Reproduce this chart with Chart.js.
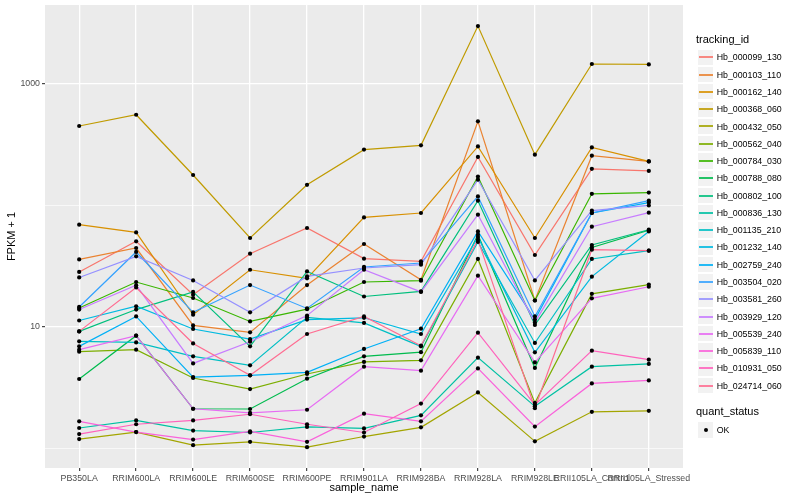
<!DOCTYPE html>
<html><head><meta charset="utf-8">
<script src="https://cdn.jsdelivr.net/npm/chart.js@4.4.1/dist/chart.umd.min.js"></script>
<style>
html,body{margin:0;padding:0;background:#fff;}
#wrap{position:relative;width:800px;height:500px;font-family:"Liberation Sans",Arial,Helvetica,sans-serif;overflow:hidden;}
canvas{position:absolute;left:0;top:0;}
.lg{position:absolute;white-space:nowrap;color:#000;}
.key{position:absolute;background:#F2F2F2;box-sizing:border-box;border:1px solid #fff;}
.kline{position:absolute;height:2px;opacity:0.85;}
</style></head><body>
<div id="wrap"><canvas id="c" width="800" height="500"></canvas><div id="legend"></div></div>
<script>
// ---- data ----
const categories = ["PB350LA","RRIM600LA","RRIM600LE","RRIM600SE","RRIM600PE","RRIM901LA","RRIM928BA","RRIM928LA","RRIM928LE","RRII105LA_Control","RRII105LA_Stressed"];
const trackingIds = ["Hb_000099_130","Hb_000103_110","Hb_000162_140","Hb_000368_060","Hb_000432_050","Hb_000562_040","Hb_000784_030","Hb_000788_080","Hb_000802_100","Hb_000836_130","Hb_001135_210","Hb_001232_140","Hb_002759_240","Hb_003504_020","Hb_003581_260","Hb_003929_120","Hb_005539_240","Hb_005839_110","Hb_010931_050","Hb_024714_060"];
const seriesColors = ["#F8766D","#EA8331","#D89000","#C09B00","#A3A500","#7CAE00","#39B600","#00BB4E","#00BF7D","#00C1A3","#00BFC4","#00BAE0","#00B0F6","#35A2FF","#9590FF","#C77CFF","#E76BF3","#FA62DB","#FF62BC","#FF6C91"];

const Hb_000099_130 = [28.3, 50.5, 18.4, 40.0, 65.0, 36.4, 34.6, 249, 39.0, 199, 191];
const Hb_000103_110 = [35.9, 44.5, 10.3, 9.03, 22.1, 48.0, 24.4, 488, 16.5, 255, 229];
const Hb_000162_140 = [69.2, 59.8, 12.6, 29.5, 25.1, 79.4, 86.3, 304, 53.8, 298, 229];
const Hb_000368_060 = [447, 553, 177, 53.8, 147, 286, 310, 2958, 260, 1443, 1432];
const Hb_000432_050 = [1.20, 1.37, 1.07, 1.14, 1.03, 1.26, 1.50, 2.90, 1.15, 2.01, 2.05];
const Hb_000562_040 = [6.27, 6.51, 3.81, 3.09, 4.11, 5.16, 5.32, 36.2, 2.38, 18.7, 22.3];
const Hb_000784_030 = [14.3, 23.4, 17.3, 11.1, 14.0, 23.4, 24.0, 172, 16.5, 124, 127];
const Hb_000788_080 = [3.74, 8.48, 2.13, 2.12, 3.76, 5.74, 6.21, 57.3, 4.61, 45.0, 62.3];
const Hb_000802_100 = [9.20, 13.9, 19.4, 6.93, 28.6, 17.8, 19.6, 109, 10.4, 47.1, 62.9];
const Hb_000836_130 = [1.48, 1.71, 1.41, 1.36, 1.51, 1.47, 1.88, 5.60, 2.23, 4.72, 4.97];
const Hb_001135_210 = [7.62, 7.47, 5.74, 4.84, 12.0, 10.8, 6.93, 49.9, 7.39, 36.2, 42.3];
const Hb_001232_140 = [11.3, 14.8, 9.63, 7.94, 11.5, 11.9, 8.76, 54.8, 6.19, 25.9, 60.9];
const Hb_002759_240 = [6.93, 12.2, 3.88, 4.01, 4.24, 6.60, 9.68, 60.9, 11.5, 86.3, 105];
const Hb_003504_020 = [14.6, 41.3, 13.2, 22.1, 14.2, 31.1, 33.5, 118, 12.2, 86.3, 109];
const Hb_003581_260 = [25.5, 38.0, 24.1, 13.2, 26.0, 30.5, 32.5, 162, 24.1, 90.2, 99.6];
const Hb_003929_120 = [13.9, 22.0, 5.02, 7.57, 12.4, 29.5, 19.4, 83.6, 10.9, 66.6, 86.8];
const Hb_005539_240 = [6.51, 8.48, 2.13, 1.97, 2.09, 4.72, 4.38, 26.4, 5.12, 17.2, 21.4];
const Hb_005839_110 = [1.68, 1.37, 1.19, 1.39, 1.14, 1.94, 1.68, 4.57, 1.52, 3.44, 3.64];
const Hb_010931_050 = [1.32, 1.59, 1.71, 1.92, 1.59, 1.36, 2.35, 8.98, 2.29, 6.39, 5.39];
const Hb_024714_060 = [9.20, 21.1, 7.33, 4.01, 8.76, 12.2, 7.02, 52.1, 2.15, 43.1, 42.3];

const seriesValues = [Hb_000099_130,Hb_000103_110,Hb_000162_140,Hb_000368_060,Hb_000432_050,Hb_000562_040,Hb_000784_030,Hb_000788_080,Hb_000802_100,Hb_000836_130,Hb_001135_210,Hb_001232_140,Hb_002759_240,Hb_003504_020,Hb_003581_260,Hb_003929_120,Hb_005539_240,Hb_005839_110,Hb_010931_050,Hb_024714_060];

const yTickValues = [10, 1000];
const yTickLabels = ["10", "1000"];
const yMinorValues = [1, 100];
const yRange = [0.695, 4405];
const statusLabels = ["OK"];

// ---- chart ----
const FONT = "'Liberation Sans', Arial, Helvetica, sans-serif";
const datasets = seriesValues.map((vals, s) => ({
  label: trackingIds[s],
  data: vals.map((v, i) => ({x: i + 1, y: v})),
  borderColor: seriesColors[s],
  borderWidth: 1.2,
  pointRadius: 0,
  fill: false,
  tension: 0,
  order: seriesValues.length - s
}));
datasets.push({
  label: "points",
  data: seriesValues.flatMap(vals => vals.map((v, i) => ({x: i + 1, y: v}))),
  showLine: false,
  pointRadius: 2.1,
  pointBackgroundColor: "#000",
  pointBorderWidth: 0,
  order: -1
});

const panelBg = {
  id: "panelBg",
  beforeDraw(chart) {
    const a = chart.chartArea, c = chart.ctx;
    c.save(); c.fillStyle = "#EBEBEB";
    c.fillRect(a.left, a.top, a.right - a.left, a.bottom - a.top);
    c.restore();
  }
};

const allY = yMinorValues.concat(yTickValues).sort((a, b) => a - b);

new Chart(document.getElementById("c"), {
  type: "line",
  data: {datasets},
  plugins: [panelBg],
  options: {
    responsive: false,
    animation: false,
    layout: {padding: {left: 0, right: 117, top: 5, bottom: 0}},
    plugins: {legend: {display: false}, tooltip: {enabled: false}},
    scales: {
      x: {
        type: "linear", min: 0.4, max: 11.6,
        afterBuildTicks: s => { s.ticks = categories.map((c, i) => ({value: i + 1})); },
        afterFit: s => { s.height = 32; s.paddingLeft = 0; s.paddingRight = 0; },
        ticks: {autoSkip: false, maxRotation: 0, minRotation: 0, padding: 2, color: "#4D4D4D",
          font: {family: FONT, size: 8.8},
          callback: v => categories[Math.round(v) - 1]},
        grid: {color: "#FFFFFF", lineWidth: 1.3, tickLength: 3, tickColor: "#333333", tickWidth: 1.1},
        border: {display: false},
        title: {display: true, text: "sample_name", color: "#000", font: {family: FONT, size: 11}, padding: {top: 0, bottom: 5}}
      },
      y: {
        type: "logarithmic", min: yRange[0], max: yRange[1],
        afterBuildTicks: s => { s.ticks = allY.map(v => ({value: v, major: yTickValues.includes(v)})); },
        afterFit: s => { s.width = 45; s.paddingTop = 0; s.paddingBottom = 0; },
        ticks: {autoSkip: false, padding: 2, color: "#4D4D4D", font: {family: FONT, size: 8.8},
          callback: v => { const k = yTickValues.indexOf(v); return k >= 0 ? yTickLabels[k] : ""; }},
        grid: {color: "#FFFFFF",
          lineWidth: ctx => (ctx.tick && yTickValues.includes(ctx.tick.value)) ? 1.3 : 0.65,
          tickLength: 3, tickWidth: 1.1,
          tickColor: ctx => (ctx.tick && yTickValues.includes(ctx.tick.value)) ? "#333333" : "rgba(0,0,0,0)"},
        border: {display: false},
        title: {display: true, text: "FPKM + 1", color: "#000", font: {family: FONT, size: 11}, padding: {top: 5, bottom: 0}}
      }
    }
  }
});

// ---- legend (HTML) ----
const lg = document.getElementById("legend");
function addDiv(cls, style, text) {
  const d = document.createElement("div");
  d.className = cls;
  Object.assign(d.style, style);
  if (text !== undefined) d.textContent = text;
  lg.appendChild(d);
  return d;
}
addDiv("lg", {left: "696px", top: "31.5px", fontSize: "11px", lineHeight: "14px"}, "tracking_id");
const rowH = 17.28, row0 = 57.3;
trackingIds.forEach((id, i) => {
  const c = row0 + rowH * i;
  addDiv("key", {left: "697px", top: (c - rowH / 2) + "px", width: rowH + "px", height: rowH + "px"});
  addDiv("kline", {left: "698.7px", top: (Math.round(c) - 1) + "px", width: "14px", background: seriesColors[i]});
  addDiv("lg", {left: "716.7px", top: (c - 5.9) + "px", fontSize: "8.8px", lineHeight: "12px"}, id);
});
addDiv("lg", {left: "696px", top: "404.2px", fontSize: "11px", lineHeight: "14px"}, "quant_status");
statusLabels.forEach((t, i) => {
  const c = 430 + rowH * i;
  addDiv("key", {left: "697px", top: (c - rowH / 2) + "px", width: rowH + "px", height: rowH + "px"});
  addDiv("lg", {left: "703.6px", top: (c - 2) + "px", width: "4px", height: "4px", background: "#000", borderRadius: "2px"});
  addDiv("lg", {left: "716.7px", top: (c - 5.9) + "px", fontSize: "8.8px", lineHeight: "12px"}, t);
});
</script>
</body></html>
